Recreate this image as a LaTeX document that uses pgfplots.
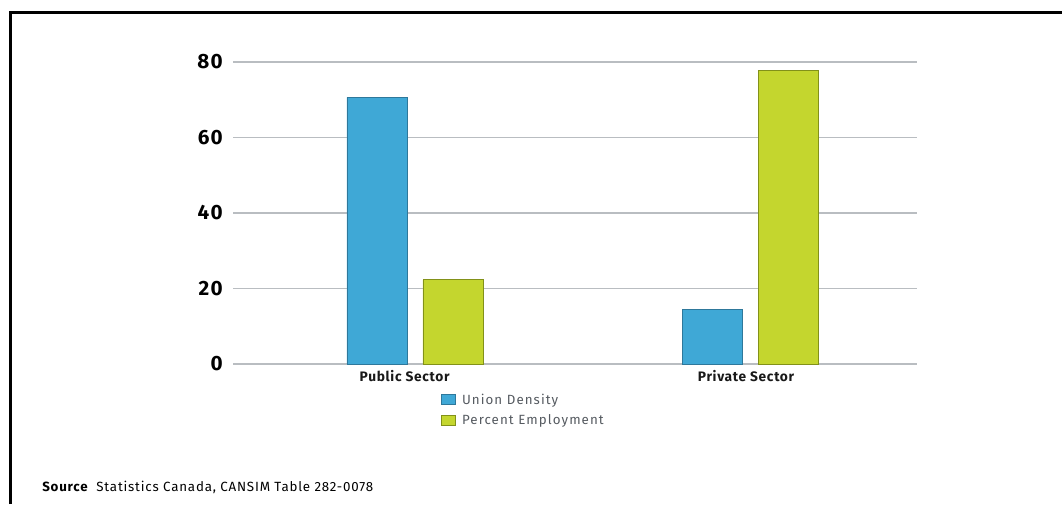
\documentclass[border=0pt]{standalone}
\usepackage{pgfplots}
\pgfplotsset{compat=1.18}
\usepackage{fontspec}
\setmainfont{Fira Sans}
\newfontfamily\legfont[LetterSpace=8]{Fira Sans}
\newfontfamily\catfont[LetterSpace=5]{Fira Sans}
\newfontfamily\tickfont[LetterSpace=6]{Fira Sans}
\newfontfamily\srcfont[LetterSpace=6]{Fira Sans}
\definecolor{ublue}{RGB}{63,168,214}
\definecolor{ubluee}{RGB}{46,120,155}
\definecolor{ugreen}{RGB}{196,214,46}
\definecolor{ugreene}{RGB}{130,145,25}
\definecolor{gridc}{RGB}{185,189,193}
\definecolor{legtxt}{RGB}{85,90,96}
\begin{document}
\begin{tikzpicture}
\useasboundingbox (0,0) rectangle (796.5pt,378pt);
\draw[line width=2.25pt] (7.5pt,0pt) -- (7.5pt,368.6pt) -- (796.5pt,368.6pt);
\begin{axis}[
  at={(174.75pt,105pt)}, anchor=south west,
  scale only axis, width=513pt, height=226.5pt,
  xmin=-0.5421, xmax=1.4954, ymin=0, ymax=80,
  xtick={0,1}, xticklabels={{Public Sector\hspace*{15.5pt}}, {Private Sector\hspace*{7pt}}},
  ytick={0,20,40,60,80},
  axis line style={draw=none}, major tick style={draw=none},
  ymajorgrids, grid style={gridc, line width=1.1pt},
  /pgf/number format/assume math mode=true,
  yticklabel style={font=\tickfont\fontsize{15.5}{15.5}\selectfont\bfseries, anchor=east, inner sep=0pt, xshift=-7.5pt, color=black},
  xticklabel style={font=\catfont\fontsize{10.3}{12}\selectfont\bfseries, anchor=north, inner sep=0pt, yshift=-4.5pt, color=black!90},
  legend style={at={(0.304,-0.093)}, anchor=north west, draw=none, fill=none, inner sep=0pt,
    font=\legfont\fontsize{10}{12}\selectfont, text=legtxt, row sep=4.3pt, column sep=3.5pt,
    nodes={inner sep=1pt}},
  legend cell align=left,
  legend image code/.code={\draw[#1] (0pt,-3.75pt) rectangle (10.5pt,3.75pt);},
]
\addplot[ybar, bar width=0.1787, bar shift=-0.1132, fill=ublue, draw=ubluee, line width=0.6pt]
  coordinates {(0,70.6) (1,14.4)};
\addlegendentry{Union Density}
\addplot[ybar, bar width=0.1787, bar shift=0.1132, fill=ugreen, draw=ugreene, line width=0.6pt]
  coordinates {(0,22.3) (1,77.7)};
\addlegendentry{Percent Employment}
\end{axis}
\node[anchor=west, inner sep=0pt, font=\srcfont\fontsize{10}{12}\selectfont] at (31.5pt,12.75pt) {{\bfseries Source}\ \ Statistics Canada, CANSIM Table 282-0078};
\end{tikzpicture}
\end{document}
